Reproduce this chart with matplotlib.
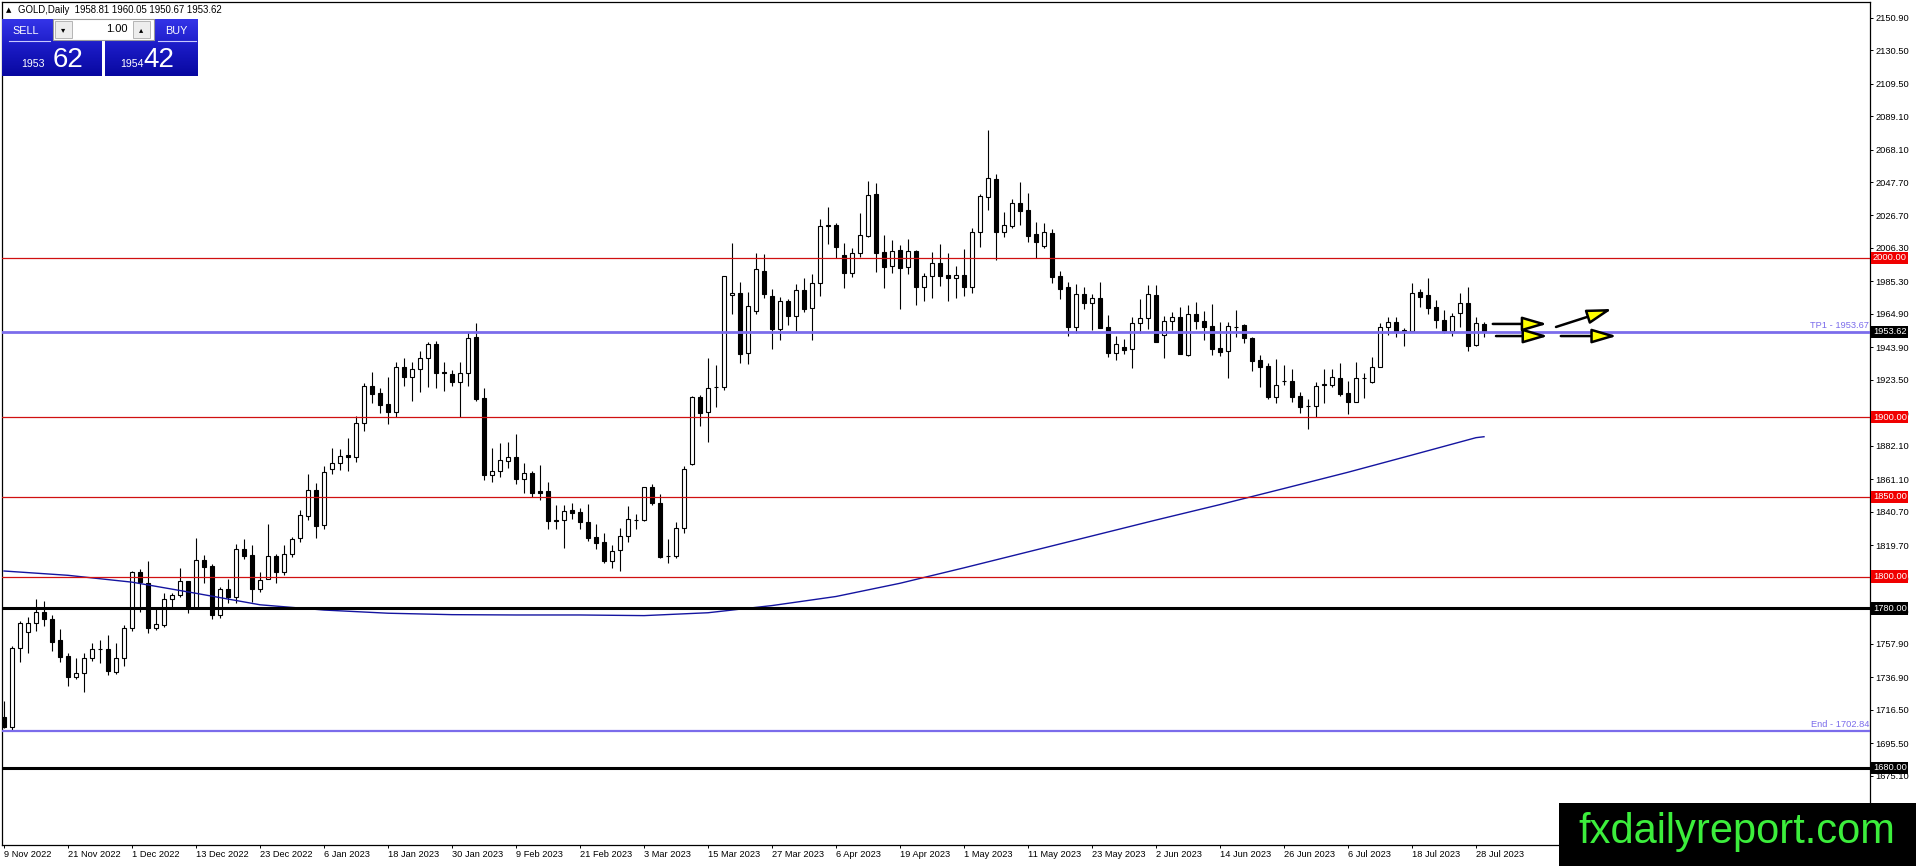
import matplotlib
matplotlib.use("Agg")
import matplotlib.pyplot as plt
import matplotlib.transforms as mtransforms
from matplotlib.patches import Rectangle
import numpy as np

plt.rcParams['font.family'] = ['Liberation Sans', 'DejaVu Sans']

# daily candles, 9 Nov 2022 .. 31 Jul 2023
opens = [1711.6, 1705.7, 1754.9, 1765.4, 1770.6, 1777.9, 1773.1, 1759.9, 1750.1, 1737.1,
         1739.2, 1748.6, 1754.3, 1754.3, 1740.3, 1748.6, 1767.5, 1802.6, 1795.7, 1767.9,
         1769.6, 1785.7, 1788.4, 1797.2, 1780.4, 1810.4, 1806.6, 1775.8, 1792.2, 1786.9,
         1817.1, 1813.5, 1791.9, 1798.2, 1813.1, 1803.0, 1814.1, 1824.0, 1838.2, 1854.3,
         1832.4, 1867.3, 1871.1, 1876.3, 1874.9, 1896.2, 1919.6, 1915.0, 1908.3, 1903.5,
         1931.4, 1925.5, 1930.1, 1937.0, 1946.0, 1928.4, 1927.2, 1922.4, 1927.6, 1950.2,
         1911.9, 1863.7, 1866.5, 1872.8, 1874.9, 1861.0, 1865.2, 1853.5, 1853.5, 1835.4,
         1835.3, 1841.8, 1840.3, 1834.2, 1824.6, 1821.4, 1809.9, 1816.6, 1825.6, 1835.6,
         1835.5, 1856.0, 1846.0, 1813.0, 1813.1, 1830.2, 1870.4, 1912.9, 1903.5, 1918.8,
         1919.2, 1976.5, 1977.8, 1940.5, 1966.9, 1992.0, 1976.1, 1955.6, 1973.0, 1963.8,
         1979.9, 1968.4, 1984.1, 2020.2, 2020.7, 2001.9, 1990.8, 2002.9, 2014.0, 2040.2,
         2004.0, 1995.0, 2005.0, 1994.1, 2004.4, 1982.0, 1988.7, 1996.6, 1989.3, 1987.2,
         1989.3, 1981.6, 2016.1, 2038.1, 2049.4, 2016.5, 2020.3, 2034.3, 2030.1, 2015.0,
         2007.5, 2015.5, 1988.7, 1981.6, 1956.9, 1977.2, 1971.5, 1974.6, 1956.4, 1940.5,
         1943.9, 1942.6, 1958.9, 1962.1, 1976.7, 1951.6, 1960.6, 1963.1, 1939.1, 1964.8,
         1960.6, 1957.3, 1943.7, 1941.8, 1956.9, 1957.9, 1949.5, 1935.9, 1932.2, 1912.9,
         1923.0, 1922.8, 1913.3, 1907.3, 1907.3, 1920.1, 1920.2, 1924.4, 1915.0, 1909.8,
         1924.7, 1922.3, 1931.8, 1956.9, 1960.0, 1954.4, 1954.4, 1978.4, 1976.8, 1969.0,
         1961.1, 1954.4, 1965.2, 1971.5, 1945.4, 1958.81]
highs = [1722.0, 1756.4, 1772.0, 1774.8, 1785.9, 1784.6, 1775.8, 1766.8, 1752.2, 1748.6,
         1752.2, 1758.0, 1760.5, 1763.3, 1758.0, 1769.3, 1803.7, 1804.5, 1810.0, 1780.0,
         1790.0, 1790.0, 1805.1, 1797.5, 1824.0, 1813.5, 1807.8, 1793.2, 1798.4, 1820.2,
         1823.3, 1819.8, 1802.6, 1833.0, 1814.1, 1819.8, 1825.0, 1842.0, 1864.4, 1858.5,
         1869.6, 1880.5, 1880.1, 1886.8, 1901.0, 1921.7, 1928.6, 1918.2, 1925.1, 1934.5,
         1937.0, 1934.9, 1941.8, 1947.5, 1948.1, 1934.5, 1929.7, 1934.5, 1953.8, 1959.4,
         1918.2, 1880.5, 1883.6, 1884.7, 1889.5, 1871.1, 1866.5, 1870.0, 1859.2, 1844.9,
         1844.9, 1846.4, 1843.3, 1845.3, 1832.9, 1827.1, 1819.8, 1830.2, 1844.3, 1839.6,
         1856.5, 1858.1, 1851.8, 1823.3, 1834.4, 1869.4, 1913.3, 1914.0, 1937.0, 1932.8,
         1989.0, 2009.6, 1984.9, 1978.6, 2003.3, 2002.5, 1980.5, 1975.3, 1974.2, 1983.7,
         1987.6, 1989.9, 2024.3, 2031.8, 2021.7, 2009.2, 2006.0, 2028.0, 2048.5, 2047.3,
         2014.4, 2011.3, 2008.1, 2011.9, 2005.0, 1990.3, 2003.5, 2008.6, 2002.9, 1994.9,
         2005.4, 2018.6, 2040.2, 2080.4, 2052.7, 2029.1, 2037.0, 2047.9, 2040.6, 2022.4,
         2021.8, 2018.2, 1992.0, 1985.1, 1983.7, 1982.0, 1977.2, 1984.7, 1964.2, 1951.2,
         1948.9, 1962.7, 1974.0, 1983.0, 1983.0, 1963.6, 1965.9, 1969.4, 1970.5, 1972.6,
         1966.7, 1970.9, 1960.0, 1960.0, 1967.3, 1958.5, 1950.2, 1939.1, 1934.3, 1936.6,
         1932.8, 1930.3, 1916.1, 1911.3, 1921.9, 1930.3, 1930.3, 1934.3, 1922.8, 1934.5,
         1928.0, 1937.6, 1959.4, 1963.2, 1963.2, 1955.8, 1984.1, 1980.3, 1987.2, 1973.6,
         1967.3, 1965.2, 1978.2, 1981.6, 1963.2, 1960.05]
lows = [1704.7, 1704.0, 1746.5, 1752.2, 1766.0, 1769.0, 1753.4, 1746.5, 1731.5, 1735.6,
        1727.7, 1747.0, 1745.5, 1738.2, 1738.8, 1743.8, 1766.0, 1778.0, 1764.7, 1766.4,
        1768.1, 1780.6, 1787.3, 1776.9, 1780.0, 1795.7, 1773.1, 1773.7, 1783.6, 1783.6,
        1811.0, 1784.2, 1790.5, 1798.2, 1796.1, 1801.0, 1812.5, 1822.0, 1835.5, 1824.4,
        1829.9, 1864.4, 1866.9, 1866.5, 1872.1, 1891.6, 1909.2, 1902.5, 1895.8, 1900.0,
        1919.6, 1910.4, 1916.1, 1919.2, 1918.2, 1916.7, 1919.8, 1900.0, 1919.6, 1910.4,
        1860.6, 1859.6, 1862.7, 1868.4, 1858.1, 1852.3, 1850.2, 1848.0, 1829.7, 1829.7,
        1818.1, 1835.9, 1829.7, 1822.5, 1817.1, 1808.3, 1805.5, 1803.6, 1821.9, 1829.6,
        1835.0, 1844.9, 1811.8, 1808.7, 1811.8, 1827.1, 1870.0, 1894.5, 1884.7, 1906.6,
        1917.1, 1964.8, 1934.3, 1933.4, 1964.8, 1974.7, 1942.8, 1948.5, 1958.0, 1954.3,
        1965.9, 1948.5, 1976.1, 2008.8, 1999.8, 1980.9, 1988.3, 2000.4, 2013.4, 1991.4,
        1980.9, 1990.8, 1968.0, 1989.7, 1970.5, 1973.2, 1975.1, 1982.6, 1973.2, 1975.1,
        1976.3, 1977.8, 2007.1, 2030.1, 1998.7, 2013.4, 2018.6, 2020.7, 2010.2, 2000.2,
        2006.4, 1984.5, 1974.2, 1951.2, 1953.1, 1968.0, 1954.8, 1956.2, 1938.0, 1935.9,
        1939.5, 1931.1, 1953.1, 1955.2, 1947.0, 1937.4, 1954.8, 1939.5, 1938.5, 1955.2,
        1948.5, 1939.1, 1938.5, 1924.4, 1950.6, 1946.8, 1929.2, 1918.8, 1911.3, 1909.2,
        1920.2, 1909.8, 1902.5, 1892.4, 1900.3, 1909.2, 1919.2, 1913.3, 1901.8, 1909.8,
        1911.9, 1921.3, 1931.3, 1951.6, 1950.2, 1944.9, 1954.0, 1969.0, 1964.8, 1955.8,
        1952.7, 1951.0, 1956.5, 1941.8, 1944.9, 1950.67]
closes = [1705.7, 1754.9, 1770.6, 1770.6, 1777.9, 1773.1, 1759.1, 1749.7, 1737.1, 1739.2,
          1748.6, 1754.3, 1754.5, 1740.9, 1748.6, 1767.5, 1802.6, 1796.8, 1767.9, 1770.2,
          1785.7, 1788.4, 1797.2, 1780.4, 1810.4, 1806.2, 1775.8, 1792.2, 1786.9, 1817.1,
          1813.1, 1791.9, 1797.8, 1813.1, 1803.0, 1814.1, 1823.3, 1838.6, 1854.3, 1831.9,
          1865.4, 1871.1, 1875.9, 1874.8, 1896.2, 1919.6, 1914.6, 1907.7, 1903.5, 1931.4,
          1925.5, 1930.1, 1937.0, 1946.0, 1928.0, 1927.6, 1922.4, 1928.0, 1949.6, 1911.5,
          1863.7, 1866.5, 1873.2, 1874.9, 1861.0, 1864.8, 1852.7, 1852.7, 1835.1, 1835.2,
          1841.4, 1840.1, 1834.0, 1824.0, 1821.2, 1809.9, 1816.2, 1825.6, 1835.9, 1835.8,
          1856.0, 1846.0, 1812.4, 1813.1, 1830.2, 1867.3, 1912.9, 1902.9, 1918.1, 1918.9,
          1988.7, 1978.2, 1939.5, 1969.8, 1992.9, 1977.4, 1955.6, 1972.8, 1963.8, 1979.9,
          1968.0, 1984.1, 2020.1, 2020.4, 2007.1, 1990.8, 2002.9, 2014.4, 2039.5, 2003.3,
          1994.5, 2004.6, 1993.9, 2004.4, 1982.0, 1988.7, 1996.6, 1988.9, 1987.2, 1989.3,
          1981.6, 2016.1, 2038.9, 2050.0, 2016.5, 2020.7, 2034.3, 2029.7, 2013.8, 2010.2,
          2016.1, 1988.3, 1980.5, 1956.9, 1977.2, 1971.5, 1974.6, 1956.2, 1940.5, 1945.8,
          1942.2, 1958.9, 1962.1, 1977.2, 1947.0, 1960.6, 1962.7, 1939.5, 1964.8, 1960.6,
          1956.9, 1942.9, 1941.2, 1957.3, 1956.8, 1949.5, 1935.5, 1931.8, 1912.9, 1920.2,
          1922.9, 1912.9, 1906.6, 1907.1, 1919.6, 1920.6, 1925.1, 1914.4, 1909.8, 1924.4,
          1924.9, 1931.3, 1956.5, 1960.0, 1954.4, 1954.5, 1978.2, 1975.7, 1968.4, 1961.1,
          1954.4, 1963.8, 1971.5, 1944.7, 1959.0, 1953.62]

# moving average read at every 8th bar
ma_idx = [0, 8, 16, 24, 32, 40, 48, 56, 64, 72, 80, 88, 96, 104, 112, 120, 128,
          136, 144, 152, 160, 168, 176, 184, 185]
ma_val = [1803.5, 1800.8, 1796.5, 1789.5, 1782.3, 1779.0, 1777.0, 1776.1, 1775.9,
          1775.9, 1775.5, 1777.3, 1781.8, 1787.5, 1795.8, 1805.5, 1815.5, 1825.5,
          1835.5, 1845.2, 1855.3, 1865.5, 1876.3, 1887.2, 1887.8]

date_labels = ['9 Nov 2022', '21 Nov 2022', '1 Dec 2022', '13 Dec 2022', '23 Dec 2022',
               '6 Jan 2023', '18 Jan 2023', '30 Jan 2023', '9 Feb 2023', '21 Feb 2023',
               '3 Mar 2023', '15 Mar 2023', '27 Mar 2023', '6 Apr 2023', '19 Apr 2023',
               '1 May 2023', '11 May 2023', '23 May 2023', '2 Jun 2023', '14 Jun 2023',
               '26 Jun 2023', '6 Jul 2023', '18 Jul 2023', '28 Jul 2023']
price_ticks = [2150.90, 2130.50, 2109.50, 2089.10, 2068.10, 2047.70, 2026.70, 2006.30,
               1985.30, 1964.90, 1943.90, 1923.50, 1902.50, 1882.10, 1861.10, 1840.70,
               1819.70, 1798.70, 1778.30, 1757.90, 1736.90, 1716.50, 1695.50, 1675.10]

red_levels = [2000.0, 1900.0, 1850.0, 1800.0]
black_levels = [1780.0, 1680.0]
tp1 = 1953.67
end_level = 1702.84
last_price = 1953.62

# projection arrows (bar index, price)
arrows = [(186.1, 1958.6, 192.9, 1958.6),
          (186.5, 1951.0, 193.0, 1951.0),
          (194.0, 1956.7, 201.0, 1968.0),
          (194.6, 1951.0, 201.6, 1951.0)]

W, H = 1916, 866
fig = plt.figure(figsize=(W / 100, H / 100), dpi=100)
fig.patch.set_facecolor('white')
ax = fig.add_axes([2 / W, (H - 845) / H, 1868 / W, 843 / H])
ax.set_facecolor('white')

o = np.array(opens); h = np.array(highs); l = np.array(lows); c = np.array(closes)
x = np.arange(len(o))
up = c >= o
bot = np.minimum(o, c)
hgt = np.maximum(np.abs(c - o), 0.05)

ax.vlines(x, l, h, color='black', lw=0.8, zorder=3)
ax.bar(x[up], hgt[up], bottom=bot[up], width=0.6, facecolor='white',
       edgecolor='black', lw=0.8, zorder=4)
ax.bar(x[~up], hgt[~up], bottom=bot[~up], width=0.6, facecolor='black',
       edgecolor='black', lw=0.8, zorder=4)

ax.plot(ma_idx, ma_val, color='#1414A0', lw=1.0, zorder=5)

for lv in red_levels:
    ax.axhline(lv, color='#D01010', lw=0.9, zorder=5)
for lv in black_levels:
    ax.axhline(lv, color='black', lw=2.2, zorder=5)
ax.axhline(tp1, color='#7B6CEB', lw=2.0, zorder=5)
ax.axhline(end_level, color='#7B6CEB', lw=1.6, zorder=5)

for x0, y0, x1, y1 in arrows:
    ax.annotate('', xy=(x1, y1), xytext=(x0, y0),
                arrowprops=dict(arrowstyle='-|>,head_length=0.75,head_width=0.22',
                                mutation_scale=20, facecolor='#FFFF00',
                                edgecolor='black', lw=1.8, shrinkA=0, shrinkB=0),
                zorder=6)

ax.set_xlim(-0.25, 233.25)
ax.set_ylim(1631.5, 2160.7)

ax.yaxis.tick_right()
ax.set_yticks(price_ticks)
ax.set_yticklabels([f'{v:.2f}' for v in price_ticks])
ax.tick_params(axis='y', direction='out', length=2.5, width=0.7, pad=1.5,
               labelsize=6.7, colors='black')
ax.set_xticks(range(0, len(o), 8))
ax.set_xticklabels(date_labels)
for t in ax.get_xticklabels():
    t.set_ha('left')
ax.tick_params(axis='x', direction='out', length=2.5, width=0.7, pad=1.0,
               labelsize=6.7, colors='black')
for s in ax.spines.values():
    s.set_color('black')
    s.set_linewidth(0.9)

tr = mtransforms.blended_transform_factory(ax.transAxes, ax.transData)
for lv in red_levels:
    ax.text(1.0015, lv, f'{lv:.2f}', transform=tr, ha='left', va='center',
            fontsize=6.7, color='white', zorder=10,
            bbox=dict(boxstyle='square,pad=0.18', facecolor='#F00000', edgecolor='none'))
for lv in black_levels + [last_price]:
    ax.text(1.0015, lv, f'{lv:.2f}', transform=tr, ha='left', va='center',
            fontsize=6.7, color='white', zorder=10,
            bbox=dict(boxstyle='square,pad=0.18', facecolor='black', edgecolor='none'))
ax.text(0.9995, tp1 + 1.2, f'TP1 - {tp1:.2f}', transform=tr, ha='right',
        va='bottom', fontsize=6.7, color='#7B6CEB', zorder=6)
ax.text(0.9995, end_level + 1.2, f'End - {end_level:.2f}', transform=tr, ha='right',
        va='bottom', fontsize=6.7, color='#7B6CEB', zorder=6)

# overlay in pixel coordinates: header, trade panel, watermark
ov = fig.add_axes([0, 0, 1, 1], facecolor='none')
ov.set_xlim(0, W)
ov.set_ylim(H, 0)
ov.axis('off')
ov.set_zorder(20)

ov.text(6, 10, '\u25B2', fontsize=5, ha='left', va='center', color='black',
        family=['DejaVu Sans'])
ov.text(18, 10, 'GOLD,Daily  1958.81 1960.05 1950.67 1953.62', fontsize=6.9,
        ha='left', va='center', color='black')

grad = np.linspace(0, 1, 64).reshape(-1, 1)
from matplotlib.colors import LinearSegmentedColormap
blue_cm = LinearSegmentedColormap.from_list('b', ['#3434E8', '#1A1AC4', '#0808A0'])
for x0, x1 in [(2, 102), (105, 198)]:
    ov.imshow(grad, cmap=blue_cm, aspect='auto', extent=(x0, x1, 76, 19),
              interpolation='bilinear', zorder=1)
ov.plot([9, 50], [41, 41], color='#C8C8FF', lw=0.8, zorder=2)
ov.plot([158, 196], [41, 41], color='#C8C8FF', lw=0.8, zorder=2)
ov.add_patch(Rectangle((53, 19), 101, 21, facecolor='white', edgecolor='#9A9A9A',
                       lw=0.8, zorder=3))
ov.add_patch(Rectangle((55, 21), 17, 17, facecolor='#EDEDED', edgecolor='#B5B5B5',
                       lw=0.7, zorder=4))
ov.add_patch(Rectangle((133, 21), 17, 17, facecolor='#EDEDED', edgecolor='#B5B5B5',
                       lw=0.7, zorder=4))
ov.text(63.5, 29.5, '\u25BE', fontsize=6, ha='center', va='center',
        family=['DejaVu Sans'], zorder=5)
ov.text(141.5, 29.5, '\u25B4', fontsize=6, ha='center', va='center',
        family=['DejaVu Sans'], zorder=5)
ov.text(128, 29.5, '1.00', fontsize=8, ha='right', va='center', color='black', zorder=5)
ov.text(26, 30.5, 'SELL', fontsize=7.8, ha='center', va='center', color='white', zorder=5)
ov.text(176, 30.5, 'BUY', fontsize=7.8, ha='center', va='center', color='white', zorder=5)
ov.text(21, 67, '1953', fontsize=7.6, ha='left', va='baseline', color='white', zorder=5)
ov.text(53, 67, '62', fontsize=20, ha='left', va='baseline', color='white', zorder=5)
ov.text(120, 67, '1954', fontsize=7.6, ha='left', va='baseline', color='white', zorder=5)
ov.text(143, 67, '42', fontsize=20, ha='left', va='baseline', color='white', zorder=5)

ov.add_patch(Rectangle((1559, 803), W - 1559, H - 803, facecolor='black',
                       edgecolor='none', zorder=1))
ov.text(1737, 832, 'fxdailyreport.com', fontsize=30, ha='center', va='center',
        color='#3CEE3C', zorder=2)

fig.savefig('out.png', dpi=100, facecolor='white')
